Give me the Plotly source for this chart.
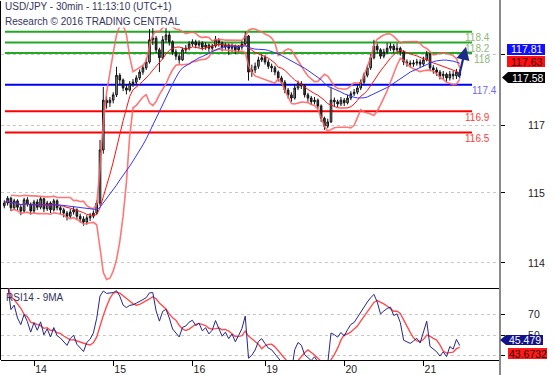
import plotly.graph_objects as go
import pandas as pd

# ---------------- data (hourly bars) ----------------
opens = [115.12, 115.17, 115.26, 115.08, 115.21, 115.09, 115.02, 115.23, 115.15, 115.02, 115.19, 115.09, 115.25, 115.06, 115.17, 115.04, 115.21,
         115.08, 115.04, 114.98, 114.92, 115.00, 115.04, 114.92, 114.87, 114.81, 114.89, 114.92, 114.98, 115.17,
         116.17, 117.11, 117.06, 117.11, 117.21, 117.58, 117.49, 117.34, 117.30, 117.42, 117.45, 117.53, 117.64, 117.72, 117.83,
         118.25, 118.28, 118.06, 117.91, 118.25, 118.34, 118.21, 118.02, 117.94, 117.87, 118.06, 118.09, 118.17,
         118.21, 118.15, 118.19, 118.11, 118.15, 118.09, 118.13, 118.25, 118.19, 118.11, 118.15, 118.09, 118.13, 118.06, 118.11, 118.17, 118.32,
         117.64, 117.68, 117.75, 117.87, 117.91, 117.83, 117.75, 117.72, 117.64, 117.53, 117.45, 117.30, 117.21, 117.15,
         117.34, 117.42, 117.38, 117.21, 117.15, 117.08, 117.11, 117.00, 116.77, 116.62, 116.70, 117.11, 117.08, 117.04, 117.11,
         117.06, 117.15, 117.23, 117.26, 117.34, 117.45, 117.58, 117.72, 117.91, 118.13, 118.06, 117.94, 118.02, 118.09, 118.13, 118.06, 118.09, 118.02,
         117.83, 117.81, 117.79, 117.81, 117.83, 117.79, 117.87, 117.98, 117.72, 117.68, 117.64, 117.57, 117.60, 117.53, 117.60, 117.57, 117.64]

highs = [115.22, 115.30, 115.29, 115.25, 115.24, 115.13, 115.27, 115.28, 115.18, 115.23, 115.24, 115.29, 115.27, 115.21, 115.20, 115.25, 115.24,
         115.12, 115.08, 115.02, 115.06, 115.10, 115.07, 114.97, 114.92, 114.94, 114.98, 115.03, 115.22,
         116.36, 117.36, 117.18, 117.17, 117.26, 117.74, 117.62, 117.52, 117.40, 117.47, 117.51, 117.58, 117.69, 117.77, 117.90,
         118.45, 118.47, 118.32, 118.10, 118.32, 118.47, 118.40, 118.24, 118.07, 117.99, 118.10, 118.15, 118.22,
         118.26, 118.25, 118.24, 118.22, 118.20, 118.18, 118.17, 118.32, 118.28, 118.22, 118.19, 118.18, 118.18, 118.16, 118.15, 118.23, 118.40,
         118.34, 117.78, 117.82, 117.93, 117.98, 117.96, 117.88, 117.80, 117.76, 117.67, 117.57, 117.49, 117.34, 117.26,
         117.40, 117.48, 117.47, 117.41, 117.25, 117.19, 117.17, 117.14, 117.03, 116.80, 116.76, 117.36, 117.16, 117.12, 117.17,
         117.15, 117.21, 117.28, 117.32, 117.40, 117.50, 117.63, 117.77, 117.98, 118.25, 118.18, 118.09, 118.08, 118.19, 118.19, 118.17, 118.18, 118.12,
         118.05, 117.88, 117.86, 117.87, 117.89, 117.88, 117.93, 118.04, 118.00, 117.77, 117.73, 117.68, 117.66, 117.63, 117.66, 117.66, 117.70, 117.69]

lows = [115.07, 115.12, 115.02, 115.04, 115.03, 114.94, 114.99, 115.10, 114.95, 114.98, 115.04, 115.05, 115.00, 115.02, 114.98, 115.01, 115.03,
        114.96, 114.90, 114.84, 114.88, 114.95, 114.86, 114.80, 114.74, 114.76, 114.83, 114.88, 114.95,
        115.12, 116.10, 116.95, 116.98, 117.05, 117.17, 117.40, 117.28, 117.22, 117.27, 117.36, 117.40, 117.49, 117.59, 117.68,
        117.80, 118.15, 118.00, 117.64, 117.88, 118.20, 118.14, 117.96, 117.87, 117.80, 117.85, 118.00, 118.05,
        118.12, 118.09, 118.10, 118.05, 118.06, 118.02, 118.04, 118.10, 118.12, 118.03, 118.06, 117.96, 118.02, 117.98, 118.01, 118.06, 118.14,
        117.48, 117.55, 117.62, 117.70, 117.83, 117.78, 117.70, 117.64, 117.58, 117.46, 117.38, 117.24, 117.14, 117.08,
        117.12, 117.30, 117.32, 117.16, 117.08, 117.02, 117.03, 116.94, 116.70, 116.55, 116.58, 116.68, 117.00, 116.98, 117.00,
        117.00, 117.03, 117.11, 117.19, 117.22, 117.30, 117.41, 117.54, 117.68, 117.88, 117.99, 117.89, 117.90, 117.98, 118.04, 118.00, 118.01, 117.95,
        117.77, 117.74, 117.73, 117.74, 117.76, 117.72, 117.75, 117.84, 117.66, 117.61, 117.57, 117.50, 117.51, 117.46, 117.48, 117.50, 117.51, 117.52]

closes = [115.17, 115.26, 115.08, 115.21, 115.09, 115.02, 115.23, 115.15, 115.02, 115.19, 115.09, 115.25, 115.06, 115.17, 115.04, 115.21, 115.08,
          115.04, 114.98, 114.92, 115.00, 115.04, 114.92, 114.87, 114.81, 114.89, 114.92, 114.98, 115.17,
          116.17, 117.11, 117.06, 117.11, 117.21, 117.58, 117.49, 117.34, 117.30, 117.42, 117.45, 117.53, 117.64, 117.72, 117.83,
          118.25, 118.28, 118.06, 117.91, 118.25, 118.34, 118.21, 118.02, 117.94, 117.87, 118.06, 118.09, 118.17,
          118.21, 118.15, 118.19, 118.11, 118.15, 118.09, 118.13, 118.25, 118.19, 118.11, 118.15, 118.09, 118.13, 118.06, 118.11, 118.17, 118.32,
          117.64, 117.68, 117.75, 117.87, 117.91, 117.83, 117.75, 117.72, 117.64, 117.53, 117.45, 117.30, 117.21, 117.15,
          117.34, 117.42, 117.38, 117.21, 117.15, 117.08, 117.11, 117.00, 116.77, 116.62, 116.70, 117.11, 117.08, 117.04, 117.11,
          117.06, 117.15, 117.23, 117.26, 117.34, 117.45, 117.58, 117.72, 117.91, 118.13, 118.06, 117.94, 118.02, 118.09, 118.13, 118.06, 118.09, 118.02,
          117.83, 117.81, 117.79, 117.81, 117.83, 117.79, 117.87, 117.98, 117.72, 117.68, 117.64, 117.57, 117.60, 117.53, 117.60, 117.57, 117.64, 117.58]

day_labels = ["14", "15", "16", "19", "20", "21"]
day_start_bar = [9, 33, 57, 79, 103, 127]

levels = [118.4, 118.2, 118.0, 117.4, 116.9, 116.5]
level_labels = ["118.4", "118.2", "118", "117.4", "116.9", "116.5"]
level_kind = ["res", "res", "res", "pivot", "sup", "sup"]

price_tick_text = ["", "117", "115", "114"]   # the 118 label is hidden behind the readout boxes
rsi_tick_vals = [30, 50, 70]
rsi_tick_text = ["", "50", "70"]             # the 30 label is hidden behind the readout box

price_readouts = ["117.81", "117.63", "117.58"]   # slow MA, mid band, last
rsi_readouts = ["45.479", "43.6732"]             # RSI, its MA
forecast_target = 118.12

title_1 = "USD/JPY - 30min - 11:13:10 (UTC+1)"
title_2 = "Research \u00a9 2016 TRADING CENTRAL"
rsi_title = "RSI14 - 9MA"

# ---------------- indicators ----------------
n = len(closes)
idx = list(range(n))
s = pd.Series(closes)
mid = s.rolling(10, min_periods=1).mean()
sd = s.rolling(10, min_periods=3).std(ddof=0)
upper = mid + 2 * sd
lower = mid - 2 * sd
slow = s.rolling(25, min_periods=1).mean()
delta = s.diff()
gain = delta.clip(lower=0)
loss = (-delta).clip(lower=0)
ag = gain.ewm(alpha=1 / 7, adjust=False).mean()
al = loss.ewm(alpha=1 / 7, adjust=False).mean()
rsi = 100 - 100 / (1 + ag / al)
rsi_ma = rsi.rolling(5, min_periods=1).mean()

# ---------------- geometry helpers ----------------
W, H = 554, 375
ML, MR, MT, MB = 1, 54, 1, 15
PW = W - ML - MR
PH = H - MT - MB


def px(x):
    return (x - ML) / PW


def py(y):
    return (H - MB - y) / PH


rsi_top = py(288)
FONT = "Liberation Sans, Arial, sans-serif"

fig = go.Figure()

fig.add_trace(go.Candlestick(
    x=idx, open=opens, high=highs, low=lows, close=closes,
    increasing=dict(line=dict(color="#111111", width=1), fillcolor="#a0a0a0"),
    decreasing=dict(line=dict(color="#111111", width=1), fillcolor="#404040"),
    whiskerwidth=0, showlegend=False, hoverinfo="skip", xaxis="x", yaxis="y"))

band_color = "rgba(255,95,95,0.85)"
fig.add_trace(go.Scatter(x=idx, y=upper, mode="lines", line=dict(color=band_color, width=1.6),
                         showlegend=False, hoverinfo="skip"))
fig.add_trace(go.Scatter(x=idx, y=lower, mode="lines", line=dict(color=band_color, width=1.6),
                         showlegend=False, hoverinfo="skip"))
fig.add_trace(go.Scatter(x=idx, y=mid, mode="lines", line=dict(color="#ff1010", width=1),
                         showlegend=False, hoverinfo="skip"))
fig.add_trace(go.Scatter(x=idx, y=slow, mode="lines", line=dict(color="#3535ff", width=1),
                         showlegend=False, hoverinfo="skip"))

fig.add_trace(go.Scatter(x=idx, y=rsi_ma, mode="lines", line=dict(color="#ff4d4d", width=1.4),
                         showlegend=False, hoverinfo="skip", xaxis="x2", yaxis="y2"))
fig.add_trace(go.Scatter(x=idx, y=rsi, mode="lines", line=dict(color="#25258f", width=1),
                         showlegend=False, hoverinfo="skip", xaxis="x2", yaxis="y2"))

shapes = []
annotations = []

kind_line = {"res": "#22a822", "pivot": "#0000f0", "sup": "#ff0000"}
kind_text = {"res": "#8db87a", "pivot": "#6a6af5", "sup": "#ff3b3b"}
for lv, lab, kd in zip(levels, level_labels, level_kind):
    shapes.append(dict(type="line", xref="paper", yref="y", x0=px(5), x1=px(472), y0=lv, y1=lv,
                       line=dict(color=kind_line[kd], width=2), layer="below"))
    right = 498 if kd == "pivot" else 491
    annotations.append(dict(xref="paper", yref="y", x=px(right), y=lv, xanchor="right", yanchor="middle",
                            yshift=-6, text=lab, showarrow=False, borderpad=0,
                            font=dict(family=FONT, size=10, color=kind_text[kd])))

# frame lines
shapes.append(dict(type="line", xref="paper", yref="paper", x0=1, x1=1, y0=py(376), y1=py(0),
                   line=dict(color="#8a8a8a", width=2)))
shapes.append(dict(type="line", xref="paper", yref="paper", x0=px(0.5), x1=px(0.5), y0=0, y1=1,
                   line=dict(color="#000000", width=1)))


def box(x0, y0, x1, y1, color, tip=None):
    if tip is None:
        path = f"M {px(x0)},{py(y0)} L {px(x1)},{py(y0)} L {px(x1)},{py(y1)} L {px(x0)},{py(y1)} Z"
    else:
        ym = (y0 + y1) / 2
        path = (f"M {px(tip)},{py(ym)} L {px(x0)},{py(y0)} L {px(x1)},{py(y0)} "
                f"L {px(x1)},{py(y1)} L {px(x0)},{py(y1)} Z")
    shapes.append(dict(type="path", xref="paper", yref="paper", path=path,
                       fillcolor=color, line=dict(width=0), layer="above"))


def box_text(xc, yc, text, color):
    annotations.append(dict(xref="paper", yref="paper", x=px(xc), y=py(yc), xanchor="center",
                            yanchor="middle", text=text, showarrow=False,
                            font=dict(family=FONT, size=10.5, color=color)))


box(507, 44, 545, 55, "#1010ff")
box_text(526, 49.5, price_readouts[0], "#ffffff")
box(507, 56, 545, 67, "#ff0f0f")
box_text(526, 61.5, price_readouts[1], "#3a0000")
box(508, 72, 545, 83, "#000000", tip=502)
box_text(527, 77.5, price_readouts[2], "#ffffff")
box(506, 335, 543, 345, "#12128a", tip=500)
box_text(525, 340, rsi_readouts[0], "#ffffff")
box(508, 348, 547, 359, "#ff1a1a")
box_text(527.5, 353.5, rsi_readouts[1], "#3a0000")

# forecast arrow
annotations.append(dict(x=n + 0.9, y=forecast_target, ax=n - 1.4, ay=closes[-1] - 0.06,
                        xref="x", yref="y", axref="x", ayref="y", text="", showarrow=True,
                        arrowhead=2, arrowsize=1.2, arrowwidth=2.2, arrowcolor="#1c2a8c"))

# titles
for txt, yc in [(title_1, 7), (title_2, 21)]:
    annotations.append(dict(xref="paper", yref="paper", x=px(4), y=py(yc), xanchor="left",
                            yanchor="middle", text=txt, showarrow=False, bgcolor="#ffffff",
                            borderpad=0, font=dict(family=FONT, size=10, color="#34345e")))
annotations.append(dict(xref="paper", yref="paper", x=px(4), y=py(297), xanchor="left",
                        yanchor="middle", text=rsi_title, showarrow=False,
                        font=dict(family=FONT, size=10, color="#34345e")))

xr = [-1.0, 150.2]
ymain = [119 - 288 / 53, 119 - 1 / 53]
price_tick_vals = [117.98, 116.64, 115.36, 114.04]

axis_font = dict(family=FONT, size=10.5, color="#222222")
fig.update_layout(
    width=W, height=H, margin=dict(l=ML, r=MR, t=MT, b=MB),
    paper_bgcolor="white", plot_bgcolor="white",
    showlegend=False,
    xaxis=dict(domain=[0, 1], anchor="y", range=xr, showticklabels=False, ticks="",
               showgrid=False, zeroline=False, showline=True, linecolor="#000000", linewidth=1,
               rangeslider=dict(visible=False), fixedrange=True),
    yaxis=dict(domain=[rsi_top, 1], anchor="x", side="right", range=ymain,
               tickvals=price_tick_vals, ticktext=price_tick_text, ticks="outside", ticklen=4,
               tickcolor="#000000", tickfont=axis_font, ticklabelstandoff=21,
               showgrid=True, gridcolor="#c8c8c8", griddash="dot", gridwidth=1,
               zeroline=False, showline=False, fixedrange=True),
    xaxis2=dict(domain=[0, 1], anchor="y2", range=xr, matches="x",
                tickvals=day_start_bar, ticktext=day_labels, ticks="outside", ticklen=5,
                tickcolor="#000000", tickfont=axis_font, ticklabelshift=7, ticklabelstandoff=-6,
                showgrid=False, zeroline=False, showline=True, linecolor="#000000", linewidth=1,
                fixedrange=True),
    yaxis2=dict(domain=[0, rsi_top], anchor="x2", side="right", range=[26, 96],
                tickvals=rsi_tick_vals, ticktext=rsi_tick_text, ticks="outside", ticklen=4,
                tickcolor="#000000", tickfont=axis_font, ticklabelstandoff=21,
                showgrid=True, gridcolor="#c8c8c8", griddash="dot", gridwidth=1,
                zeroline=False, showline=False, fixedrange=True),
    shapes=shapes, annotations=annotations,
)

fig.write_html("out.html", config={"displayModeBar": False},
               post_script="document.body.style.margin='0px';")
